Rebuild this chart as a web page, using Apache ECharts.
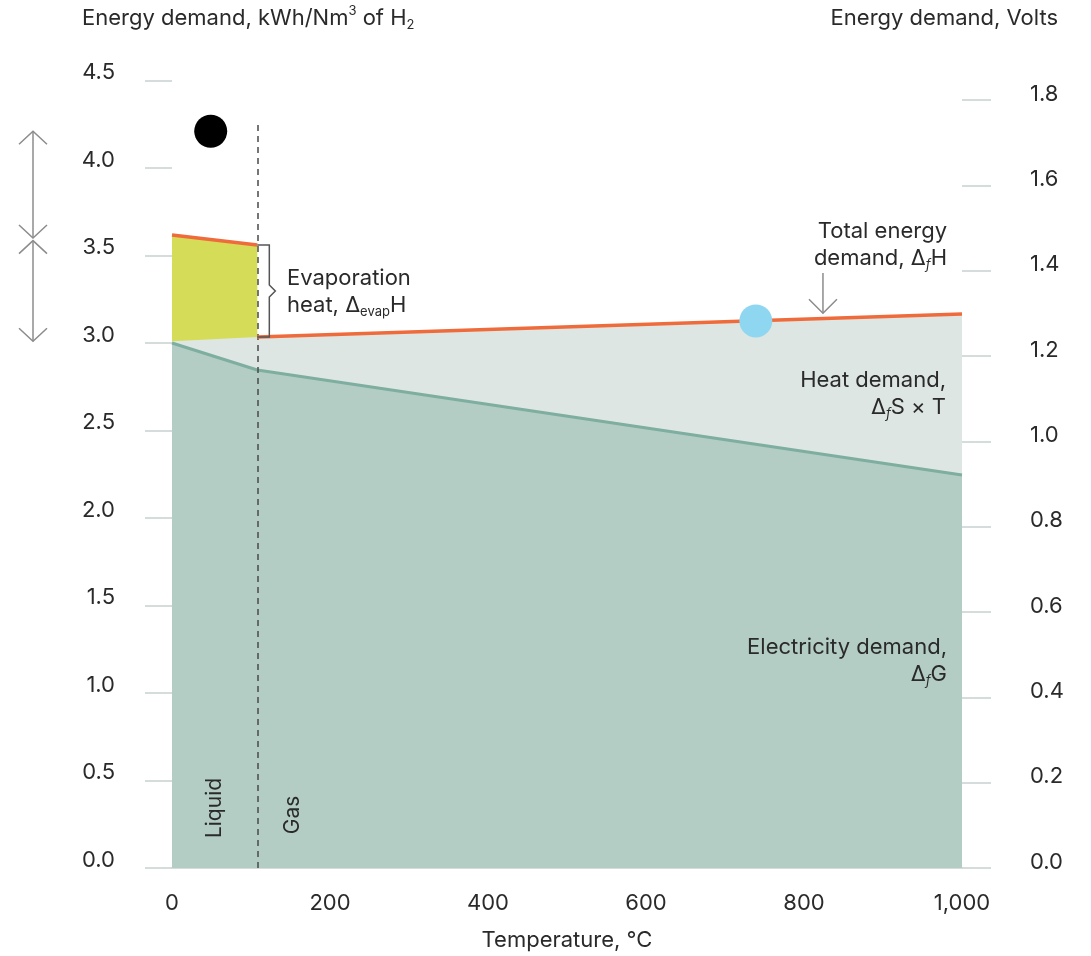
<!DOCTYPE html>
<html>
<head>
<meta charset="utf-8">
<script src="https://cdn.jsdelivr.net/npm/echarts@6/dist/echarts.min.js"></script>
<style>
  html, body { margin: 0; padding: 0; background: #ffffff; }
  #chart { width: 1091px; height: 956px; }
</style>
</head>
<body>
<div id="chart"></div>
<script>
// Energy demand of water electrolysis versus temperature (kWh/Nm³ H2 and cell volts)

// Temperature (°C) of the liquid / gas phase boundary
const phaseBoundary = 108;

// Electricity demand ΔfG
const electricityDemand = [[0, 3.00], [108, 2.846], [1000, 2.246]];
// Total energy demand ΔfH, liquid water
const totalLiquid = [[0, 3.617], [108, 3.56]];
// Total energy demand ΔfH, steam
const totalGas = [[108, 3.034], [1000, 3.166]];
// Top of the heat band: steam ΔfH carried back to 0 °C (lower edge of the evaporation band)
const heatTop = [[0, 3.01], [108, 3.034], [1000, 3.166]];

// Highlighted points
const blackPoint = [[49, 4.21]];
const bluePoint = [[739, 3.126]];

// Annotation spans (kWh/Nm³)
const leftArrowSpans = [[4.21, 3.60], [3.585, 3.01]];
const enthalpyArrow = { t: 824, from: 3.40, to: 3.17 };

// Axis ticks
const xTicks = [0, 200, 400, 600, 800, 1000];
const kwhTicks = [0, 0.5, 1.0, 1.5, 2.0, 2.5, 3.0, 3.5, 4.0, 4.5];
const voltTicks = [0, 0.2, 0.4, 0.6, 0.8, 1.0, 1.2, 1.4, 1.6, 1.8];
const kwhPerVolt = 2.438;

const FONT = 'Inter, "Noto Sans", sans-serif';
const FS = 22;
const TEXT = '#2a2a2a';
const TICK = '#c8d1d1';
const ORANGE = '#ef6b3b';

const chart = echarts.init(document.getElementById('chart'), null, { renderer: 'canvas' });

const option = {
  animation: false,
  backgroundColor: '#ffffff',
  textStyle: { fontFamily: FONT },
  grid: { left: 172, right: 129, top: 80.5, bottom: 88, containLabel: false },
  xAxis: {
    type: 'value', min: 0, max: 1000, interval: 200,
    name: 'Temperature, °C', nameLocation: 'middle', nameGap: 61,
    nameTextStyle: { color: TEXT, fontSize: FS, fontFamily: FONT },
    axisLine: { show: true, lineStyle: { color: TICK, width: 1.5 } },
    axisTick: { show: false },
    splitLine: { show: false },
    axisLabel: {
      color: TEXT, fontSize: FS, fontFamily: FONT, margin: 24,
      customValues: xTicks,
      formatter: v => v.toLocaleString('en-US')
    }
  },
  yAxis: [
    {
      type: 'value', min: 0, max: 4.5, interval: 0.5, position: 'left',
      axisLine: { show: false },
      axisTick: { show: true, length: 27, lineStyle: { color: TICK, width: 1.5 }, customValues: kwhTicks },
      splitLine: { show: false },
      axisLabel: {
        color: TEXT, fontSize: FS, fontFamily: FONT, margin: 57,
        verticalAlign: 'bottom', lineHeight: 16,
        customValues: kwhTicks, formatter: v => v.toFixed(1)
      }
    },
    {
      type: 'value', min: 0, max: 4.5 / kwhPerVolt, position: 'right',
      axisLine: { show: false },
      axisTick: { show: true, length: 29, lineStyle: { color: TICK, width: 1.5 }, customValues: voltTicks },
      splitLine: { show: false },
      axisLabel: {
        color: TEXT, fontSize: FS, fontFamily: FONT, margin: 68, align: 'left',
        verticalAlign: 'bottom', lineHeight: 12,
        customValues: voltTicks, formatter: v => v.toFixed(1)
      }
    }
  ],
  series: [
    {
      name: 'Evaporation heat', type: 'line', data: totalLiquid, showSymbol: false, silent: true,
      lineStyle: { width: 0 }, areaStyle: { color: '#d5dc57', opacity: 1 }, z: 1
    },
    {
      name: 'Heat demand', type: 'line', data: heatTop, showSymbol: false, silent: true,
      lineStyle: { width: 0 }, areaStyle: { color: '#dde6e2', opacity: 1 }, z: 2
    },
    {
      name: 'Electricity demand', type: 'line', data: electricityDemand, showSymbol: false, silent: true,
      lineStyle: { width: 3, color: '#7eae9f' }, areaStyle: { color: '#b3cdc5', opacity: 1 }, z: 3
    },
    {
      name: 'Phase boundary', type: 'line', data: [], silent: true, z: 4,
      markLine: {
        silent: true, symbol: ['none', 'none'], label: { show: false },
        lineStyle: { color: '#4a4a4a', width: 1.5, type: [6, 5] },
        data: [[{ coord: [phaseBoundary, 0] }, { coord: [phaseBoundary, 4.26] }]]
      }
    },
    {
      name: 'Total energy (liquid)', type: 'line', data: totalLiquid, showSymbol: false, silent: true,
      lineStyle: { width: 3.5, color: ORANGE }, z: 5
    },
    {
      name: 'Total energy (gas)', type: 'line', data: totalGas, showSymbol: false, silent: true,
      lineStyle: { width: 3.5, color: ORANGE }, z: 5
    },
    {
      name: 'Black point', type: 'scatter', data: blackPoint, symbolSize: 33, silent: true,
      itemStyle: { color: '#000000', opacity: 1 }, z: 6
    },
    {
      name: 'Blue point', type: 'scatter', data: bluePoint, symbolSize: 33, silent: true,
      itemStyle: { color: '#8fd7f1', opacity: 1 }, z: 6
    }
  ]
};

chart.setOption(option);

// Annotations placed through the chart's own scales
const px = (x, y) => chart.convertToPixel({ xAxisIndex: 0, yAxisIndex: 0 }, [x, y]);
const yPx = y => px(0, y)[1];

const ARROW = '#8c8c8c';
const arrowStyle = { stroke: ARROW, lineWidth: 1.5, fill: null };

function doubleArrow(x, yTop, yBot) {
  const hw = 14, hh = 13;
  return [
    { type: 'line', shape: { x1: x, y1: yTop, x2: x, y2: yBot }, style: arrowStyle, silent: true },
    { type: 'polyline', shape: { points: [[x - hw, yTop + hh], [x, yTop], [x + hw, yTop + hh]] }, style: arrowStyle, silent: true },
    { type: 'polyline', shape: { points: [[x - hw, yBot - hh], [x, yBot], [x + hw, yBot - hh]] }, style: arrowStyle, silent: true }
  ];
}

function downArrow(x, yTop, yBot) {
  const hw = 14, hh = 14;
  return [
    { type: 'line', shape: { x1: x, y1: yTop, x2: x, y2: yBot }, style: arrowStyle, silent: true },
    { type: 'polyline', shape: { points: [[x - hw, yBot - hh], [x, yBot], [x + hw, yBot - hh]] }, style: arrowStyle, silent: true }
  ];
}

const subRich = {
  s: { fontSize: 13, fontFamily: FONT, fill: TEXT, verticalAlign: 'bottom', fontStyle: 'italic', lineHeight: 27 },
  e: { fontSize: 13, fontFamily: FONT, fill: TEXT, verticalAlign: 'bottom', lineHeight: 27 },
  sup: { fontSize: 13, fontFamily: FONT, fill: TEXT, verticalAlign: 'top', lineHeight: 22 },
  sb: { fontSize: 13, fontFamily: FONT, fill: TEXT, verticalAlign: 'bottom', lineHeight: 27 }
};

function label(x, y, text, align, extra) {
  return Object.assign({
    type: 'text', x: x, y: y, silent: true,
    style: {
      text: text, fill: TEXT, font: FS + 'px ' + FONT, align: align, verticalAlign: 'top',
      lineHeight: 27, rich: subRich
    }
  }, extra || {});
}

const graphics = [];

// Axis titles
graphics.push(label(82, 5, 'Energy demand, kWh/Nm{sup|3} of H{sb|2}', 'left'));
graphics.push(label(1058, 5, 'Energy demand, Volts', 'right'));

// Left-hand double arrows
leftArrowSpans.forEach(([a, b]) => graphics.push(...doubleArrow(33, yPx(a), yPx(b))));

// Arrow pointing at the total energy line
const ea = px(enthalpyArrow.t, enthalpyArrow.from);
graphics.push(...downArrow(ea[0], ea[1], yPx(enthalpyArrow.to)));

// Evaporation bracket between liquid and steam ΔfH at the phase boundary
const bTop = px(phaseBoundary, totalLiquid[1][1]);
const bBot = px(phaseBoundary, totalGas[0][1]);
const bx = bTop[0] + 12, bMid = (bTop[1] + bBot[1]) / 2;
graphics.push({
  type: 'polyline', silent: true, z: 10,
  shape: { points: [[bTop[0], bTop[1]], [bx, bTop[1]], [bx, bMid - 6], [bx + 6, bMid], [bx, bMid + 6], [bx, bBot[1]], [bBot[0], bBot[1]]] },
  style: { stroke: '#555555', lineWidth: 1.5, fill: null }
});

// Region labels
graphics.push(label(287, 265, 'Evaporation\nheat, Δ{e|evap}H', 'left'));
graphics.push(label(947, 218, 'Total energy\ndemand, Δ{s|f}H', 'right'));
graphics.push(label(946, 367, 'Heat demand,\nΔ{s|f}S × T', 'right'));
graphics.push(label(947, 634, 'Electricity demand,\nΔ{s|f}G', 'right'));

// Phase labels, rotated
graphics.push({
  type: 'text', x: 215, y: 808, rotation: Math.PI / 2, silent: true, z: 10,
  style: { text: 'Liquid', fill: TEXT, font: '21px ' + FONT, align: 'center', verticalAlign: 'middle' }
});
graphics.push({
  type: 'text', x: 293, y: 815, rotation: Math.PI / 2, silent: true, z: 10,
  style: { text: 'Gas', fill: TEXT, font: '21px ' + FONT, align: 'center', verticalAlign: 'middle' }
});

chart.setOption({ graphic: graphics.map(g => Object.assign({ z: 10 }, g)) });
</script>
</body>
</html>
